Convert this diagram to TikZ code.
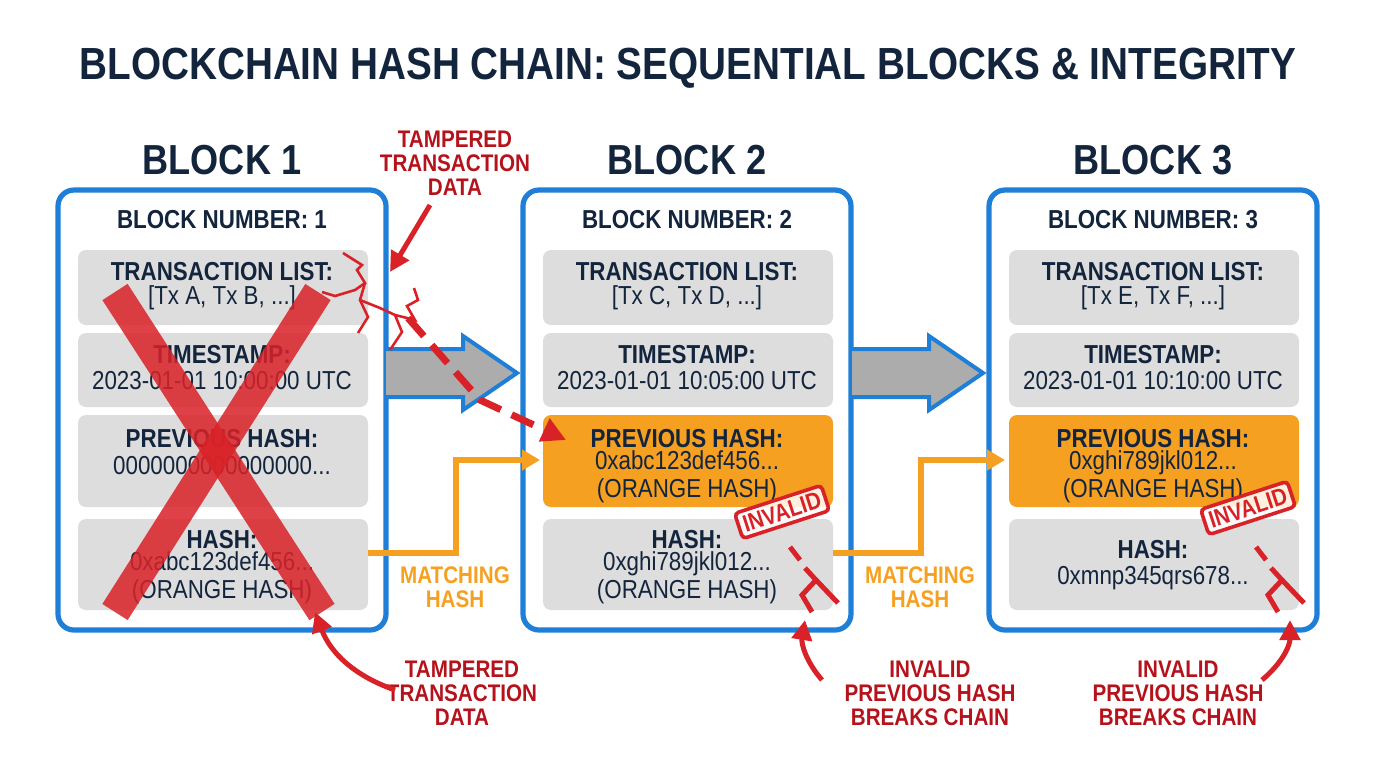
\documentclass[tikz,border=0pt]{standalone}
\usepackage{fontspec}
\setmainfont[FakeStretch=0.86]{Liberation Sans}
\usetikzlibrary{arrows.meta,calc}
\definecolor{navy}{HTML}{13243D}
\definecolor{bblue}{HTML}{1F7FD6}
\definecolor{pgray}{HTML}{DDDDDD}
\definecolor{orng}{HTML}{F5A020}
\definecolor{rred}{HTML}{D92228}
\definecolor{dred}{HTML}{B5121B}
\begin{document}
\begin{tikzpicture}[x=0.5pt,y=-0.5pt,
  block/.style={draw=bblue,line width=2.6pt,rounded corners=8pt,fill=white},
  panel/.style={fill=pgray,rounded corners=4pt},
  opanel/.style={fill=orng,rounded corners=4pt},
  hd/.style={font=\bfseries\fontsize{13}{14}\selectfont,text=navy,align=center},
  vl/.style={font=\fontsize{13}{14}\selectfont,text=navy,align=center},
  btitle/.style={font=\bfseries\fontsize{21}{23}\selectfont,text=navy},
  rlab/.style={font=\bfseries\fontsize{12}{12}\selectfont,text=dred,align=center},
  olab/.style={font=\bfseries\fontsize{12}{12}\selectfont,text=orng,align=center},
  bigarrow/.style={draw=bblue,line width=2pt,fill=gray!65},
  ocon/.style={draw=orng,line width=2.6pt,-{Triangle[length=9pt,width=10pt]}},
  rarr/.style={draw=rred,line width=2.5pt,-{Triangle[length=10pt,width=10pt]}},
  crack/.style={draw=rred,line width=1.3pt},
  stamp/.style={draw=rred,fill=white,fill opacity=0.85,text opacity=1,line width=1.8pt,rounded corners=2pt,text=rred,font=\bfseries\fontsize{12}{13}\selectfont,inner sep=2.5pt,rotate=18}
]
\useasboundingbox (0,0) rectangle (1376,768);
\node[font=\bfseries\fontsize{22.5}{26}\selectfont,text=navy] (title) at (688,68) {BLOCKCHAIN HASH CHAIN: SEQUENTIAL BLOCKS \& INTEGRITY};

% blocks
\foreach \i/\x in {1/58,2/523,3/989}{
  \draw[block] (\x,190) rectangle ++(328,440);
  \node[btitle] (bt\i) at (\x+164,160) {BLOCK \i};
  \node[hd] (bn\i) at (\x+164,220) {BLOCK NUMBER: \i};
  \fill[panel] (\x+20,250) rectangle ++(290,75);
  \fill[panel] (\x+20,333) rectangle ++(290,74);
  \fill[panel] (\x+20,519) rectangle ++(290,91);
}
\fill[panel] (78,415) rectangle ++(290,92);
\fill[opanel] (543,415) rectangle ++(290,92);
\fill[opanel] (1009,415) rectangle ++(290,92);

% texts
\node[hd] (tl1) at (222,272) {TRANSACTION LIST:};
\node[vl] (tv1) at (222,298) {[Tx A, Tx B, ...]};
\node[hd] (ts1) at (222,355) {TIMESTAMP:};
\node[vl] (tsv1) at (222,381) {2023-01-01 10:00:00 UTC};
\node[hd] (ph1) at (222,439) {PREVIOUS HASH:};
\node[vl] (phv1) at (222,466) {0000000000000000...};
\node[hd] (h1) at (222,540) {HASH:};
\node[vl,align=center] (hv1) at (222,578) {0xabc123def456...\\(ORANGE HASH)};

\node[hd] (tl2) at (687,272) {TRANSACTION LIST:};
\node[vl] (tv2) at (687,298) {[Tx C, Tx D, ...]};
\node[hd] (ts2) at (687,355) {TIMESTAMP:};
\node[vl] (tsv2) at (687,381) {2023-01-01 10:05:00 UTC};
\node[hd] (ph2) at (687,439) {PREVIOUS HASH:};
\node[vl] (phv2) at (687,477) {0xabc123def456...\\(ORANGE HASH)};
\node[hd] (h2) at (687,540) {HASH:};
\node[vl] (hv2) at (687,578) {0xghi789jkl012...\\(ORANGE HASH)};

\node[hd] (tl3) at (1153,272) {TRANSACTION LIST:};
\node[vl] (tv3) at (1153,298) {[Tx E, Tx F, ...]};
\node[hd] (ts3) at (1153,355) {TIMESTAMP:};
\node[vl] (tsv3) at (1153,381) {2023-01-01 10:10:00 UTC};
\node[hd] (ph3) at (1153,439) {PREVIOUS HASH:};
\node[vl] (phv3) at (1153,477) {0xghi789jkl012...\\(ORANGE HASH)};
\node[hd] (h3) at (1153,550) {HASH:};
\node[vl] (hv3) at (1153,578) {0xmnp345qrs678...};

% big arrows
\foreach \a in {386,852}{
  \draw[bigarrow] (\a,349) -- (\a+77,349) -- (\a+77,336) -- (\a+131,373) -- (\a+77,410) -- (\a+77,397) -- (\a,397) ;
}

% orange connectors
\coordinate (o1a) at (368,553); \coordinate (o1b) at (540,460);
\coordinate (o2a) at (833,553); \coordinate (o2b) at (1005,460);
\draw[ocon] (o1a) -- (456,553) -- (456,460) -- (o1b);
\draw[ocon] (o2a) -- (921,553) -- (921,460) -- (o2b);
\node[olab] (m1) at (455,587) {MATCHING\\HASH};
\node[olab] (m2) at (920,587) {MATCHING\\HASH};

% red X
\draw[rred,opacity=0.85,line width=15pt] (115,292) -- (322,612);
\draw[rred,opacity=0.85,line width=15pt] (318,292) -- (115,612);

% cracks block1
\draw[crack] (343,253) -- (362,265) -- (357,270) -- (365,283) -- (355,290) -- (335,296) -- (322,292);
\draw[crack] (365,283) -- (360,300) -- (368,317) -- (358,333);
\draw[crack] (360,300) -- (380,308) -- (395,315) -- (402,332) -- (390,350);
\draw[crack] (395,315) -- (415,320) -- (407,306) -- (418,300) -- (414,288);
% dashed red arrow
\coordinate (d1) at (408,318); \coordinate (d2) at (566,440);
\draw[rred,line width=3.5pt,dash pattern=on 12pt off 6pt,-{Triangle[length=12pt,width=12pt]}] (d1) -- (480,400) -- (d2);

% tampered label top
\node[rlab] (tt) at (455,163) {TAMPERED\\TRANSACTION\\DATA};
\coordinate (tt1) at (430,205); \coordinate (tt2) at (390,272);
\draw[rarr] (tt1) -- (tt2);
% tampered label bottom
\node[rlab] (tb) at (462,693) {TAMPERED\\TRANSACTION\\DATA};
\coordinate (tb1) at (395,690); \coordinate (tb2) at (315,612);
\draw[rarr] (tb1) to[bend left=25] (tb2);

% invalid bottom labels
\node[rlab] (ib2) at (930,693) {INVALID\\PREVIOUS HASH\\BREAKS CHAIN};
\coordinate (ib2a) at (822,680); \coordinate (ib2b) at (805,620);
\draw[rarr] (ib2a) to[bend left=25] (ib2b);
\node[rlab] (ib3) at (1178,693) {INVALID\\PREVIOUS HASH\\BREAKS CHAIN};
\coordinate (ib3a) at (1262,680); \coordinate (ib3b) at (1290,620);
\draw[rarr] (ib3a) to[bend right=25] (ib3b);

% stamps
\node[stamp] (s2) at (782,512) {INVALID};
\node[stamp] (s3) at (1248,508) {INVALID};

% zigzag cracks
\foreach \x in {0,466}{
  \draw[rred,line width=2.5pt] (\x+690+100,547) -- (\x+690+110,560);
  \draw[rred,line width=2.5pt] (\x+690+115,568) -- (\x+690+126,580) -- (\x+690+112,595) -- (\x+690+122,612);
  \draw[rred,line width=2.5pt] (\x+690+126,580) -- (\x+690+148,603);
}
\end{tikzpicture}
\end{document}
